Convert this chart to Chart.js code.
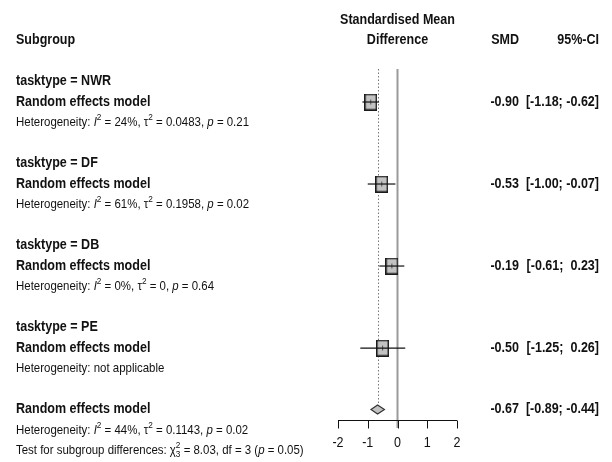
<!DOCTYPE html>
<html>
<head>
<meta charset="utf-8">
<script src="https://cdn.jsdelivr.net/npm/chart.js@4.4.1/dist/chart.umd.min.js"></script>
<style>
  html, body { margin: 0; padding: 0; background: #fff; }
  canvas { display: block; }
</style>
</head>
<body>
<canvas id="forest" width="612" height="462"></canvas>
<script>
// subgroup results
const subgroups = ['NWR', 'DF', 'DB', 'PE'];
const smd = [-0.90, -0.53, -0.19, -0.50];
const ciLow = [-1.18, -1.00, -0.61, -1.25];
const ciHigh = [-0.62, -0.07, 0.23, 0.26];
const hetI2 = ['24%', '61%', '0%', null];
const hetTau2 = ['0.0483', '0.1958', '0', null];
const hetP = ['0.21', '0.02', '0.64', null];

// overall model
const overallSmd = -0.67;
const overallLow = -0.89;
const overallHigh = -0.44;
const overallI2 = '44%';
const overallTau2 = '0.1143';
const overallP = '0.02';
const testChi2 = '8.03';
const testDf = '3';
const testP = '0.05';

const xTicks = [-2, -1, 0, 1, 2];

// row layout (one unit = one text line)
const groupRow = i => 5 + 4 * i;
const overallRow = 20;

const SX = 0.895;
const FONT = '"Liberation Sans", Arial, sans-serif';

function fontFor(style, size) {
  let f = '';
  if (style.includes('i')) f += 'italic ';
  if (style.includes('b')) f += 'bold ';
  return f + size + 'px ' + FONT;
}

// parts: [text, style]; style letters b=bold i=italic u=sup d=sub k=keep x (stack)
function drawRich(ctx, parts, x, y, size, align) {
  ctx.save();
  ctx.textBaseline = 'middle';
  ctx.textAlign = 'left';
  ctx.fillStyle = '#111';
  const items = parts.map(([t, s]) => {
    const small = s.includes('u') || s.includes('d');
    const sz = small ? size * 0.72 : size;
    ctx.font = fontFor(s, sz);
    return { t, s, sz, w: ctx.measureText(t).width };
  });
  let total = 0;
  items.forEach(it => { if (!it.s.includes('k')) total += it.w; });
  let start = 0;
  if (align === 'right') start = -total;
  if (align === 'center') start = -total / 2;
  ctx.translate(x, y);
  ctx.scale(SX, 1);
  let cx = start;
  items.forEach(it => {
    ctx.font = fontFor(it.s, it.sz);
    let dy = 0;
    if (it.s.includes('u')) dy = -size * 0.38;
    if (it.s.includes('d')) dy = size * 0.3;
    ctx.fillText(it.t, cx, dy);
    if (!it.s.includes('k')) cx += it.w;
  });
  ctx.restore();
}

const fmt = v => v.toFixed(2);
const fmtCi = v => (v < 0 ? '' : ' ') + v.toFixed(2);
const ciText = (lo, hi) => '[' + fmtCi(lo) + '; ' + fmtCi(hi) + ']';

function hetParts(i2, tau2, p) {
  if (i2 === null) return [['Heterogeneity: not applicable', '']];
  return [
    ['Heterogeneity: ', ''], ['I', 'i'], ['2', 'u'], [' = ' + i2 + ', ', ''],
    ['\u03c4', ''], ['2', 'u'], [' = ' + tau2 + ', ', ''], ['p', 'i'], [' = ' + p, '']
  ];
}

// square marker image
function squareImage() {
  const c = document.createElement('canvas');
  c.width = 13; c.height = 17;
  const g = c.getContext('2d');
  g.fillStyle = '#c2c2c2';
  g.fillRect(1, 1, 11, 15);
  g.strokeStyle = '#1a1a1a';
  g.lineWidth = 1.5;
  g.strokeRect(0.75, 0.75, 11.5, 15.5);
  g.strokeStyle = '#555';
  g.lineWidth = 1;
  g.beginPath(); g.moveTo(6.5, 6); g.lineTo(6.5, 11); g.stroke();
  return c;
}

const ciDatasets = subgroups.map((s, i) => ({
  type: 'line',
  label: 'CI ' + s,
  data: [{ x: ciLow[i], y: groupRow(i) }, { x: ciHigh[i], y: groupRow(i) }],
  borderColor: '#111',
  borderWidth: 1.2,
  pointRadius: 0,
  order: 1
}));

const squareDataset = {
  type: 'scatter',
  label: 'SMD',
  data: subgroups.map((s, i) => ({ x: smd[i], y: groupRow(i) })),
  pointStyle: squareImage(),
  pointRadius: 8,
  order: 2
};

const forestPlugin = {
  id: 'forest',
  beforeDatasetsDraw(chart) {
    const { ctx, chartArea, scales: { x, y } } = chart;
    ctx.save();
    // line of no effect
    ctx.strokeStyle = '#9a9a9a';
    ctx.lineWidth = 2;
    ctx.beginPath();
    ctx.moveTo(x.getPixelForValue(0), chartArea.top);
    ctx.lineTo(x.getPixelForValue(0), chartArea.bottom + 8);
    ctx.stroke();
    // overall estimate dotted line
    ctx.strokeStyle = '#777';
    ctx.lineWidth = 1;
    ctx.setLineDash([1.5, 2]);
    const ox = Math.round(x.getPixelForValue(overallSmd)) + 0.5;
    ctx.beginPath();
    ctx.moveTo(ox, chartArea.top);
    ctx.lineTo(ox, y.getPixelForValue(overallRow) - 5);
    ctx.stroke();
    ctx.restore();
  },
  afterDatasetsDraw(chart) {
    const { ctx, chartArea, scales: { x, y } } = chart;
    ctx.save();
    // diamond
    const dy = y.getPixelForValue(overallRow);
    ctx.beginPath();
    ctx.moveTo(x.getPixelForValue(overallLow), dy);
    ctx.lineTo(x.getPixelForValue(overallSmd), dy - 4.5);
    ctx.lineTo(x.getPixelForValue(overallHigh), dy);
    ctx.lineTo(x.getPixelForValue(overallSmd), dy + 4.5);
    ctx.closePath();
    ctx.fillStyle = '#c2c2c2';
    ctx.fill();
    ctx.strokeStyle = '#333';
    ctx.lineWidth = 1.2;
    ctx.stroke();

    // x axis
    const ay = chartArea.bottom + 0.5;
    ctx.strokeStyle = '#111';
    ctx.lineWidth = 1;
    ctx.beginPath();
    ctx.moveTo(x.getPixelForValue(xTicks[0]), ay);
    ctx.lineTo(x.getPixelForValue(xTicks[xTicks.length - 1]), ay);
    xTicks.forEach(t => {
      const tx = Math.round(x.getPixelForValue(t)) + 0.5;
      ctx.moveTo(tx, ay);
      ctx.lineTo(tx, ay + 8);
    });
    ctx.stroke();
    xTicks.forEach(t => {
      drawRich(ctx, [[String(t), '']], x.getPixelForValue(t), ay + 23, 14, 'center');
    });
    ctx.restore();

    // header
    const B = 14, N = 12.8;
    const colLeft = 16, colSmd = 519, colCi = 599;
    const midX = x.getPixelForValue(0);
    drawRich(ctx, [['Standardised Mean', 'b']], midX, y.getPixelForValue(1), B, 'center');
    drawRich(ctx, [['Difference', 'b']], midX, y.getPixelForValue(2), B, 'center');
    drawRich(ctx, [['Subgroup', 'b']], colLeft, y.getPixelForValue(2), B, 'left');
    drawRich(ctx, [['SMD', 'b']], colSmd, y.getPixelForValue(2), B, 'right');
    drawRich(ctx, [['95%-CI', 'b']], colCi, y.getPixelForValue(2), B, 'right');

    subgroups.forEach((s, i) => {
      const r = groupRow(i);
      drawRich(ctx, [['tasktype = ' + s, 'b']], colLeft, y.getPixelForValue(r - 1), B, 'left');
      drawRich(ctx, [['Random effects model', 'b']], colLeft, y.getPixelForValue(r), B, 'left');
      drawRich(ctx, hetParts(hetI2[i], hetTau2[i], hetP[i]), colLeft, y.getPixelForValue(r + 1), N, 'left');
      drawRich(ctx, [[fmt(smd[i]), 'b']], colSmd, y.getPixelForValue(r), B, 'right');
      drawRich(ctx, [[ciText(ciLow[i], ciHigh[i]), 'b']], colCi, y.getPixelForValue(r), B, 'right');
    });

    drawRich(ctx, [['Random effects model', 'b']], colLeft, y.getPixelForValue(overallRow), B, 'left');
    drawRich(ctx, hetParts(overallI2, overallTau2, overallP), colLeft, y.getPixelForValue(overallRow + 1), N, 'left');
    drawRich(ctx, [
      ['Test for subgroup differences: ', ''], ['\u03c7', ''], ['2', 'uk'], [testDf, 'd'],
      [' = ' + testChi2 + ', df = ' + testDf + ' (', ''], ['p', 'i'], [' = ' + testP + ')', '']
    ], colLeft, y.getPixelForValue(overallRow + 2), N, 'left');
    drawRich(ctx, [[fmt(overallSmd), 'b']], colSmd, y.getPixelForValue(overallRow), B, 'right');
    drawRich(ctx, [[ciText(overallLow, overallHigh), 'b']], colCi, y.getPixelForValue(overallRow), B, 'right');
  }
};

new Chart(document.getElementById('forest'), {
  type: 'scatter',
  data: { datasets: [squareDataset, ...ciDatasets] },
  options: {
    responsive: false,
    animation: false,
    devicePixelRatio: 1,
    layout: { padding: { left: 338, right: 155, top: 69, bottom: 42 } },
    scales: {
      x: { type: 'linear', min: -2, max: 2, display: false },
      y: { type: 'linear', min: 3.39, max: 20.51, reverse: true, display: false }
    },
    plugins: { legend: { display: false }, tooltip: { enabled: false } }
  },
  plugins: [forestPlugin]
});
</script>
</body>
</html>
